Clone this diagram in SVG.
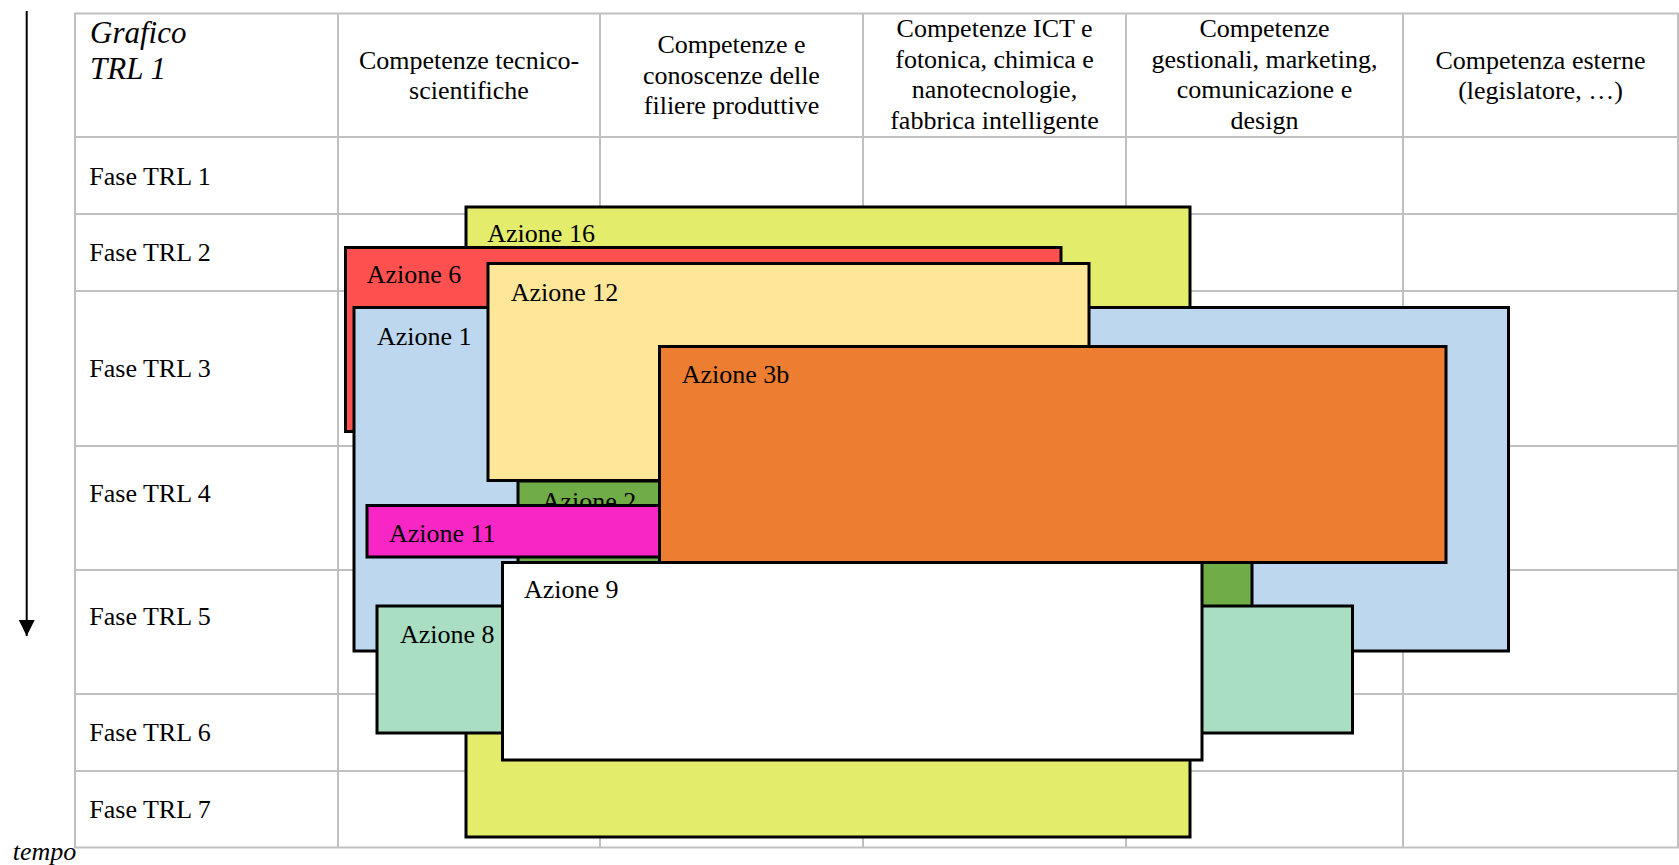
<svg xmlns="http://www.w3.org/2000/svg" width="1679" height="865" viewBox="0 0 1679 865">
<style>
.grid{stroke:#c0c0c0;stroke-width:2;fill:none}
.t{font-family:"Liberation Serif","Times New Roman",serif;font-size:26px;fill:#000}
.it{font-style:italic}
.h{text-anchor:middle}
.box{stroke:#000;stroke-width:3}
</style>
<defs>
<marker id="arr" markerUnits="userSpaceOnUse" markerWidth="16" markerHeight="16" refX="16" refY="8" orient="auto">
<path d="M0,0 L16,8 L0,16 z" fill="#000"/>
</marker>
</defs>
<rect width="1679" height="865" fill="#fff"/>
<g id="table">
<rect class="grid" x="75" y="13.5" width="1603" height="834"/>
<path class="grid" d="M338,13.5V847.5M600,13.5V847.5M863,13.5V847.5M1126,13.5V847.5M1403,13.5V847.5M75,137H1678M75,214H1678M75,291H1678M75,446H1678M75,570H1678M75,694H1678M75,771H1678"/>
<text class="t it" x="90" y="43" style="font-size:31px">Grafico</text>
<text class="t it" x="90" y="79" style="font-size:31px">TRL 1</text>
<text class="t h" x="469" y="69">Competenze tecnico-</text>
<text class="t h" x="469" y="98.5">scientifiche</text>
<text class="t h" x="731.5" y="53">Competenze e</text>
<text class="t h" x="731.5" y="83.5">conoscenze delle</text>
<text class="t h" x="731.5" y="114">filiere produttive</text>
<text class="t h" x="994.5" y="37">Competenze ICT e</text>
<text class="t h" x="994.5" y="67.5">fotonica, chimica e</text>
<text class="t h" x="994.5" y="98">nanotecnologie,</text>
<text class="t h" x="994.5" y="128.5">fabbrica intelligente</text>
<text class="t h" x="1264.5" y="37">Competenze</text>
<text class="t h" x="1264.5" y="67.5">gestionali, marketing,</text>
<text class="t h" x="1264.5" y="98">comunicazione e</text>
<text class="t h" x="1264.5" y="128.5">design</text>
<text class="t h" x="1540.5" y="68.5">Competenza esterne</text>
<text class="t h" x="1540.5" y="98.5">(legislatore, …)</text>
<text class="t" x="89.3" y="185">Fase TRL 1</text>
<text class="t" x="89.3" y="260.7">Fase TRL 2</text>
<text class="t" x="89.3" y="376.7">Fase TRL 3</text>
<text class="t" x="89.3" y="501.7">Fase TRL 4</text>
<text class="t" x="89.3" y="625">Fase TRL 5</text>
<text class="t" x="89.3" y="741">Fase TRL 6</text>
<text class="t" x="89.3" y="817.7">Fase TRL 7</text>
</g>
<g id="connectors">
<line x1="26.7" y1="11" x2="26.7" y2="636" stroke="#000" stroke-width="2" marker-end="url(#arr)"/>
</g>
<text class="t it" x="12.7" y="860">tempo</text>
<g id="azione16">
<rect class="box" x="466" y="207" width="724" height="630" fill="#e3ec6b"/>
<text class="t" x="487.3" y="242.3">Azione 16</text>
</g>
<g id="azione6">
<rect class="box" x="345.5" y="247.5" width="715.5" height="184" fill="#ff5050"/>
<text class="t" x="366.7" y="283.3">Azione 6</text>
</g>
<g id="azione1">
<rect class="box" x="354" y="307.5" width="1154.5" height="343.5" fill="#bdd7ee"/>
<text class="t" x="377" y="345">Azione 1</text>
</g>
<g id="azione12">
<rect class="box" x="488" y="263.5" width="601" height="217" fill="#ffe699"/>
<text class="t" x="510.7" y="300.5">Azione 12</text>
</g>
<g id="azione2">
<rect class="box" x="518" y="481" width="734" height="200" fill="#70ad47"/>
<text class="t" x="541.7" y="510">Azione 2</text>
</g>
<g id="azione11">
<rect class="box" x="367" y="505.5" width="333" height="51.5" fill="#f726c5"/>
<text class="t" x="389" y="542">Azione 11</text>
</g>
<g id="azione8">
<rect class="box" x="377" y="606" width="975.5" height="127" fill="#a9dec3"/>
<text class="t" x="400" y="642.7">Azione 8</text>
</g>
<g id="azione3b">
<rect class="box" x="659.5" y="346.5" width="786.5" height="216" fill="#ed7d31"/>
<text class="t" x="681.7" y="382.7">Azione 3b</text>
</g>
<g id="azione9">
<rect class="box" x="502.5" y="562.5" width="699.5" height="197.5" fill="#ffffff"/>
<text class="t" x="524" y="597.7">Azione 9</text>
</g>
</svg>
